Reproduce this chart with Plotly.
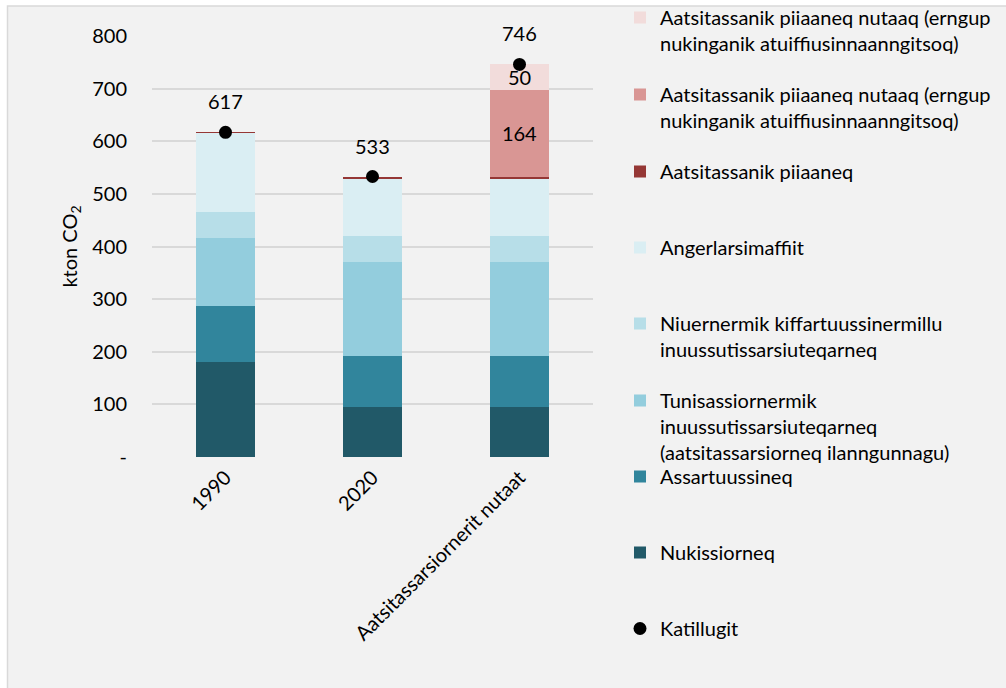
import plotly.graph_objects as go

# ---------------- data ----------------
categories = ["1990", "2020", "Aatsitassarsiornerit nutaat"]

nukissiorneq = [181, 95, 95]
assartuussineq = [105, 97, 97]
tunisassiornermik = [131, 178, 178]
niuernermik = [48, 50, 50]
angerlarsimaffiit = [151, 108, 108]
piiaaneq = [1, 5, 5]
piiaaneq_nutaaq_a = [None, None, 164]
piiaaneq_nutaaq_b = [None, None, 50]
katillugit = [617, 533, 746]

series_names = [
    "Nukissiorneq",
    "Assartuussineq",
    "Tunisassiornermik<br>inuussutissarsiuteqarneq<br>(aatsitassarsiorneq ilanngunnagu)",
    "Niuernermik kiffartuussinermillu<br>inuussutissarsiuteqarneq",
    "Angerlarsimaffiit",
    "Aatsitassanik piiaaneq",
    "Aatsitassanik piiaaneq nutaaq (erngup<br>nukinganik atuiffiusinnaanngitsoq)",
    "Aatsitassanik piiaaneq nutaaq (erngup<br>nukinganik atuiffiusinnaanngitsoq)",
]
total_name = "Katillugit"

ytick_vals = [0, 100, 200, 300, 400, 500, 600, 700, 800]
ytick_text = ["-", "100", "200", "300", "400", "500", "600", "700", "800"]

# ---------------- style ----------------
FONT = "Lato"
FS = 20
TXT = "#000000"
colors = ["#215968", "#31859C", "#93CDDD", "#B7DEE8", "#DAEEF3",
          "#953735", "#D99694", "#F2DCDB"]
legend_keys = ["legend8", "legend7", "legend6", "legend5", "legend4",
               "legend3", "legend2", "legend"]
show_text = [False, False, False, False, False, False, True, True]

series_values = [nukissiorneq, assartuussineq, tunisassiornermik, niuernermik,
                 angerlarsimaffiit, piiaaneq, piiaaneq_nutaaq_a, piiaaneq_nutaaq_b]

fig = go.Figure()
for vals, name, col, lk, st in zip(series_values, series_names, colors, legend_keys, show_text):
    xs = [c for c, v in zip(categories, vals) if v is not None]
    ys = [v for v in vals if v is not None]
    if st:
        kw = dict(
            text=[str(v) for v in ys],
            textposition="inside",
            insidetextanchor="middle",
            textangle=0,
            constraintext="none",
            textfont=dict(family=FONT, size=FS, color=TXT),
        )
    else:
        kw = dict(textposition="none")
    fig.add_trace(go.Bar(
        x=xs, y=ys, name=name,
        marker=dict(color=col, line=dict(width=0)),
        width=0.4,
        legend=lk,
        hoverinfo="x+y+name",
        **kw,
    ))

fig.add_trace(go.Scatter(
    x=categories, y=katillugit, name=total_name, mode="markers",
    marker=dict(color="#000000", size=13),
    legend="legend9", cliponaxis=False,
))

# total labels above the dots (x given as category index)
for i, t in enumerate(katillugit):
    fig.add_annotation(x=i, y=t, xref="x", yref="y", text=str(t),
                       showarrow=False, yshift=31,
                       font=dict(family=FONT, size=FS, color=TXT))

# ---------------- layout ----------------
W, H = 1006, 688
# plot area edges in pixels
SL, SR, ST, SB = 152, 593, 36, 457
PW, PH = SR - SL, SB - ST

def px_x(sx):
    return (sx - SL) / PW

def px_y(sy):
    return (SB - sy) / PH

legend_centres = [18, 95, 172, 248, 324, 401, 477, 553, 629]
leg_keys_order = ["legend", "legend2", "legend3", "legend4", "legend5",
                  "legend6", "legend7", "legend8", "legend9"]
legends = {}
for k, yc in zip(leg_keys_order, legend_centres):
    legends[k] = dict(
        x=px_x(620), xanchor="left",
        y=px_y(yc - 20), yanchor="top",
        bgcolor="rgba(0,0,0,0)", borderwidth=0,
        font=dict(family=FONT, size=FS, color=TXT),
        valign="top", orientation="v",
    )

fig.update_layout(
    width=W, height=H,
    margin=dict(l=SL, r=W - SR, t=ST, b=H - SB, pad=0, autoexpand=False),
    paper_bgcolor="#FFFFFF",
    plot_bgcolor="rgba(0,0,0,0)",
    barmode="stack",
    font=dict(family=FONT, size=FS, color=TXT),
    uniformtext=dict(mode="show", minsize=FS),
    showlegend=True,
    **legends,
    xaxis=dict(
        type="category", tickangle=-45, showgrid=False, zeroline=False,
        showline=False, ticks="", ticklabelstandoff=4, automargin=False,
        tickfont=dict(family=FONT, size=FS, color=TXT),
    ),
    yaxis=dict(
        range=[0, 800], tickvals=ytick_vals, ticktext=ytick_text,
        showgrid=True, gridcolor="#D9D9D9", gridwidth=1.6,
        zeroline=False, showline=False, ticks="", automargin=False,
        ticklabelstandoff=24,
        tickfont=dict(family=FONT, size=FS, color=TXT),
        title=dict(text="kton CO<sub>2</sub>", standoff=9,
                   font=dict(family=FONT, size=FS, color=TXT)),
    ),
    shapes=[dict(
        type="rect", xref="paper", yref="paper", layer="below",
        x0=px_x(7.5), x1=px_x(1020), y0=px_y(700), y1=px_y(6),
        fillcolor="#F2F2F2", line=dict(color="#D9D9D9", width=1.5),
    )],
)

fig.write_html("out.html",
               config={"displayModeBar": False},
               post_script="document.body.style.margin='0';document.body.style.overflow='hidden';")
